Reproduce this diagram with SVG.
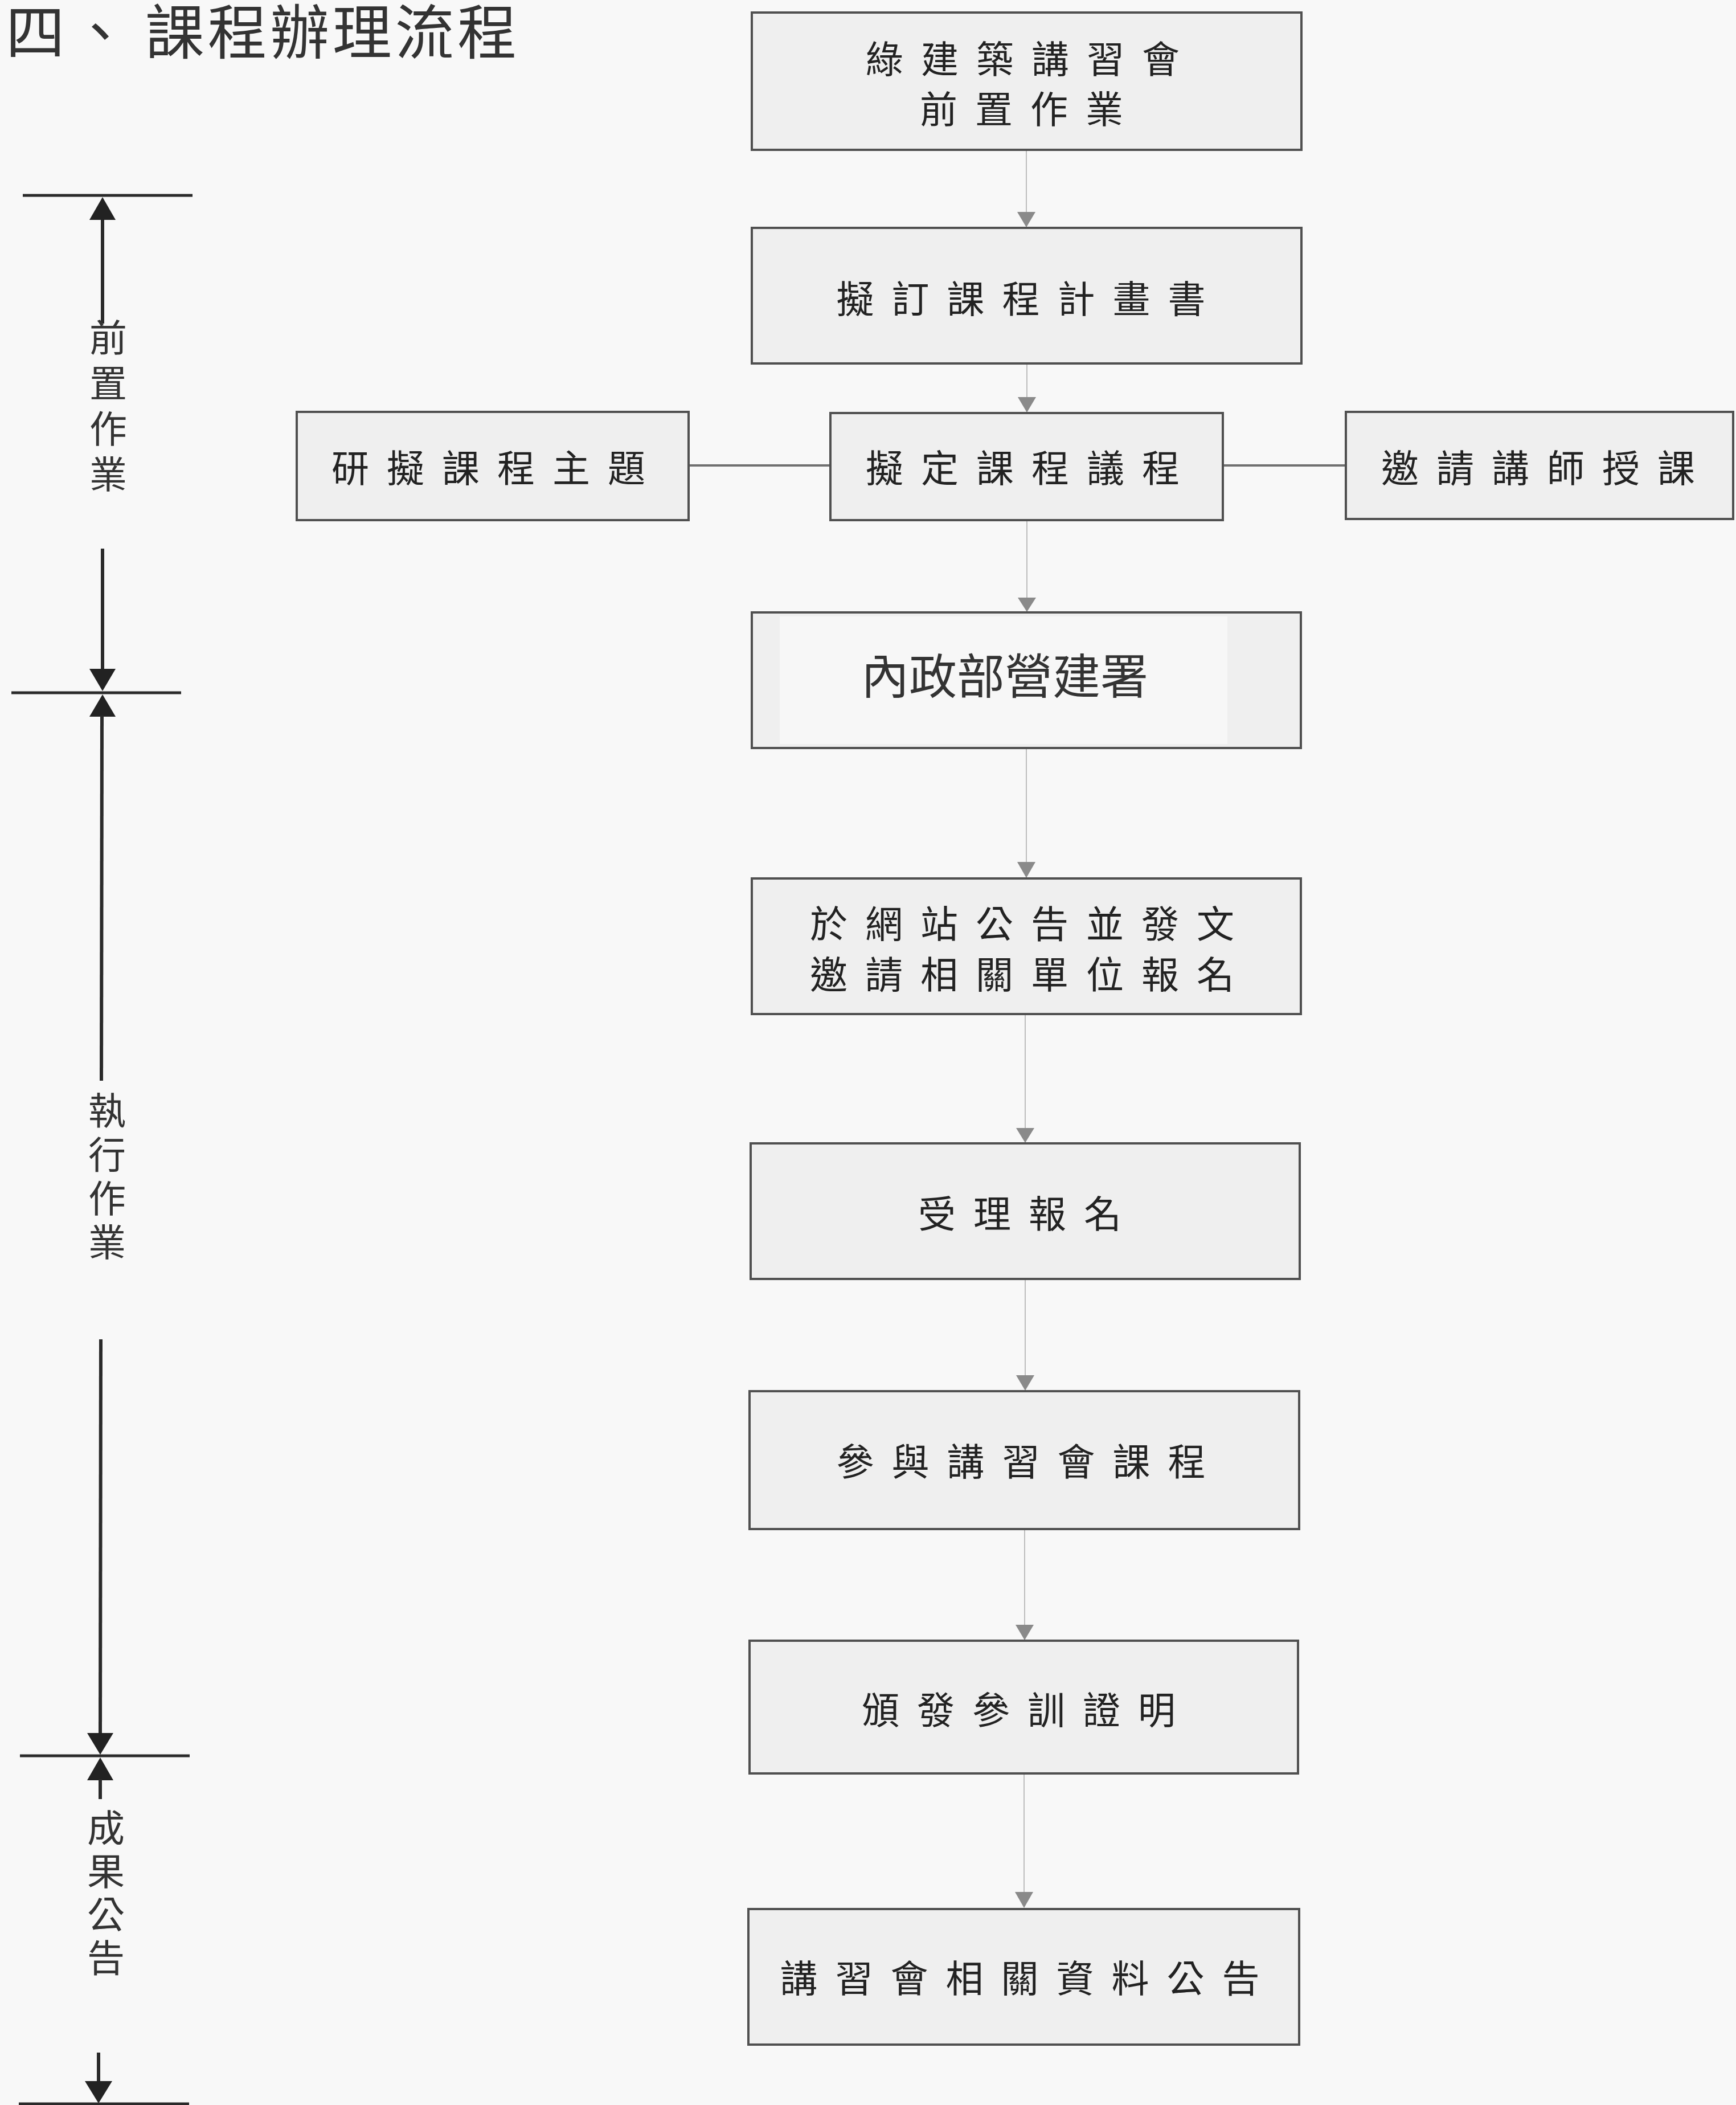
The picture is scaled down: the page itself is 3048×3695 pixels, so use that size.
<svg xmlns="http://www.w3.org/2000/svg" width="3048" height="3695" viewBox="0 0 3048 3695">
<style>
.box{fill:#efefef;stroke:#505050;stroke-width:4}
.t{font-family:"Noto Sans CJK TC","Noto Sans CJK SC",sans-serif;font-size:66px;fill:#222;letter-spacing:31px;text-anchor:middle}
.t2{font-family:"Noto Sans CJK TC","Noto Sans CJK SC",sans-serif;font-size:84px;fill:#333;text-anchor:middle}
.side{font-family:"Noto Sans CJK TC","Noto Sans CJK SC",sans-serif;font-size:66px;fill:#333;text-anchor:middle;writing-mode:vertical-rl}
.title{font-family:"Noto Sans CJK TC","Noto Sans CJK SC",sans-serif;font-size:104px;fill:#333}
.conn{stroke:#bdbdbd;stroke-width:2;fill:none}
.hconn{stroke:#707070;stroke-width:4;fill:none}
.ah{fill:#8a8a8a}
.tl{stroke:#2a2a2a;stroke-width:6;fill:none}
.tlh{stroke:#2a2a2a;stroke-width:5;fill:none}
.tla{fill:#222}
</style>
<rect width="3048" height="3695" fill="#f8f8f8"/>

<g id="title">
<text class="title" x="10" y="95">四</text>
<text class="title" x="124" y="95">、</text>
<text class="title" x="255" y="95" textLength="652">課程辦理流程</text>
</g>

<g id="timeline">
<line class="tlh" x1="40" y1="343" x2="338" y2="343"/>
<polygon class="tla" points="180,346 157,386 203,386"/>
<line class="tl" x1="180" y1="386" x2="180" y2="568"/>
<text class="side" x="190" y="719" letter-spacing="14">前置作業</text>
<line class="tl" x1="180" y1="963" x2="180" y2="1176"/>
<polygon class="tla" points="157,1174 203,1174 180,1213"/>
<line class="tlh" x1="20" y1="1216" x2="318" y2="1216"/>
<polygon class="tla" points="180,1219 157,1258 203,1258"/>
<line class="tl" x1="179" y1="1256" x2="178" y2="1897"/>
<text class="side" x="188" y="2070" letter-spacing="11">執行作業</text>
<line class="tl" x1="177" y1="2351" x2="176" y2="3044"/>
<polygon class="tla" points="153,3042 199,3042 176,3080"/>
<line class="tlh" x1="35" y1="3082" x2="333" y2="3082"/>
<polygon class="tla" points="176,3085 153,3125 199,3125"/>
<line class="tl" x1="176" y1="3123" x2="176" y2="3158"/>
<text class="side" x="186" y="3327" letter-spacing="10">成果公告</text>
<line class="tl" x1="173" y1="3603" x2="173" y2="3655"/>
<polygon class="tla" points="149,3653 197,3653 173,3692"/>
<line class="tlh" x1="33" y1="3693" x2="332" y2="3693"/>
</g>

<g id="connectors">
<line class="conn" x1="1802" y1="265" x2="1802" y2="375"/>
<polygon class="ah" points="1786,372 1818,372 1802,399"/>
<line class="conn" x1="1803" y1="640" x2="1803" y2="700"/>
<polygon class="ah" points="1787,697 1819,697 1803,724"/>
<line class="conn" x1="1803" y1="915" x2="1803" y2="1052"/>
<polygon class="ah" points="1787,1049 1819,1049 1803,1074"/>
<line class="conn" x1="1802" y1="1315" x2="1802" y2="1515"/>
<polygon class="ah" points="1786,1513 1818,1513 1802,1541"/>
<line class="conn" x1="1800" y1="1782" x2="1800" y2="1982"/>
<polygon class="ah" points="1784,1980 1816,1980 1800,2006"/>
<line class="conn" x1="1800" y1="2247" x2="1800" y2="2417"/>
<polygon class="ah" points="1784,2414 1816,2414 1800,2441"/>
<line class="conn" x1="1799" y1="2686" x2="1799" y2="2855"/>
<polygon class="ah" points="1783,2852 1815,2852 1799,2879"/>
<line class="conn" x1="1798" y1="3115" x2="1798" y2="3324"/>
<polygon class="ah" points="1782,3321 1814,3321 1798,3349"/>
<line class="hconn" x1="1211" y1="817" x2="1456" y2="817"/>
<line class="hconn" x1="2149" y1="817" x2="2361" y2="817"/>
</g>

<g id="n1">
<rect class="box" x="1320" y="22" width="965" height="241"/>
<text class="t" x="1811" y="128">綠建築講習會</text>
<text class="t" x="1809" y="216">前置作業</text>
</g>
<g id="n2">
<rect class="box" x="1320" y="400" width="965" height="238"/>
<text class="t" x="1808" y="549">擬訂課程計畫書</text>
</g>
<g id="n3a">
<rect class="box" x="521" y="723" width="688" height="190"/>
<text class="t" x="873" y="846">研擬課程主題</text>
</g>
<g id="n3">
<rect class="box" x="1458" y="725" width="689" height="188"/>
<text class="t" x="1811" y="846">擬定課程議程</text>
</g>
<g id="n3b">
<rect class="box" x="2363" y="723" width="680" height="188"/>
<text class="t" x="2716" y="846">邀請講師授課</text>
</g>
<g id="n4">
<rect class="box" x="1320" y="1075" width="964" height="238"/>
<rect x="1369" y="1082" width="786" height="224" fill="#f7f7f7"/>
<text class="t2" x="1764" y="1218">內政部營建署</text>
</g>
<g id="n5">
<rect class="box" x="1320" y="1542" width="964" height="238"/>
<text class="t" x="1810" y="1646">於網站公告並發文</text>
<text class="t" x="1810" y="1735">邀請相關單位報名</text>
</g>
<g id="n6">
<rect class="box" x="1318" y="2007" width="964" height="238"/>
<text class="t" x="1806" y="2155">受理報名</text>
</g>
<g id="n7">
<rect class="box" x="1316" y="2442" width="965" height="242"/>
<text class="t" x="1808" y="2590">參與講習會課程</text>
</g>
<g id="n8">
<rect class="box" x="1316" y="2880" width="963" height="233"/>
<text class="t" x="1804" y="3026">頒發參訓證明</text>
</g>
<g id="n9">
<rect class="box" x="1314" y="3351" width="967" height="238"/>
<text class="t" x="1806" y="3497">講習會相關資料公告</text>
</g>
</svg>
